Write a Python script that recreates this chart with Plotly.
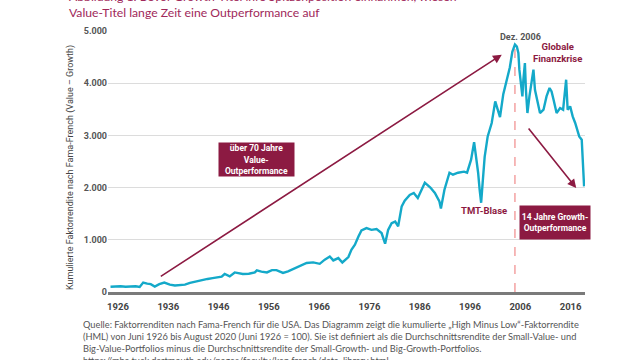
import plotly.graph_objects as go

# ---- data ----
years = [1926.5, 1927.5, 1928.5, 1929.5, 1930.5, 1931.5, 1932.3, 1933.0, 1933.8, 1934.5,
         1935.3, 1936.2, 1937.2, 1938.3, 1939.3, 1940.3, 1941.3, 1942.3, 1943.3, 1944.9,
         1945.8, 1946.8, 1947.7, 1948.6, 1949.2, 1950.2, 1951.2, 1952.8, 1954.0, 1955.2,
         1955.6, 1956.5, 1957.6, 1958.6, 1959.5, 1960.8, 1961.8, 1962.8, 1964.1, 1965.5,
         1966.8, 1968.1, 1969.1, 1970.1, 1970.8, 1971.8, 1972.6, 1973.8, 1974.4, 1975.1,
         1975.8, 1976.4, 1977.4, 1978.4, 1979.4, 1980.4, 1981.1, 1981.7, 1982.4, 1983.1,
         1983.7, 1984.4, 1985.0, 1986.0, 1986.8, 1987.6, 1989.0, 1990.1, 1991.0, 1991.9,
         1992.2, 1992.9, 1993.9, 1994.6, 1995.6, 1996.8, 1997.4, 1998.2, 1998.8, 1999.3,
         1999.6, 1999.9, 2000.2, 2000.5, 2000.9, 2001.5, 2002.3, 2003.0, 2003.5, 2003.95,
         2004.6, 2005.3, 2005.9, 2006.4, 2006.92, 2007.3, 2007.6, 2007.8, 2008.1, 2008.4,
         2008.6, 2008.9, 2009.1, 2009.4, 2009.8, 2010.3, 2010.6, 2010.9, 2011.4, 2011.9,
         2012.6, 2013.2, 2013.8, 2014.2, 2014.6, 2015.2, 2015.9, 2016.5, 2017.1, 2017.4,
         2017.9, 2018.4, 2018.9, 2019.3, 2019.7, 2020.2, 2020.5, 2020.67]
hml = [100, 105, 110, 100, 105, 110, 95, 180, 160, 150,
       105, 150, 180, 140, 125, 130, 140, 175, 200, 235,
       250, 265, 280, 295, 345, 300, 375, 345, 350, 375,
       415, 390, 375, 420, 420, 365, 395, 440, 490, 555,
       567, 540, 620, 680, 605, 650, 565, 670, 810, 905,
       1065, 1180, 1225, 1190, 1205, 1130, 925, 1190, 1320, 1350,
       1260, 1640, 1750, 1860, 1897, 1800, 2095, 2000, 1897, 1736,
       1600, 1960, 2285, 2247, 2285, 2305, 2285, 2535, 2870, 2535,
       2285, 1960, 1710, 2094, 2590, 2981, 3238, 3651, 3492, 3352,
       3790, 4067, 4300, 4600, 4740, 4700, 4579, 4259, 4004, 3747,
       4067, 4387, 3875, 3429, 3747, 4130, 4259, 3875, 3621, 3429,
       3492, 3747, 3908, 3843, 3684, 3429, 3525, 3492, 4067, 3492,
       3556, 3364, 3238, 3109, 2981, 2918, 2343, 2023]

x_tick_years = [1926, 1936, 1946, 1956, 1966, 1976, 1986, 1996, 2006, 2016]
x_tick_text = ["1926", "1936", "1946", "1956", "1966", "1976", "1986", "1996", "2006", "2016"]
y_tick_vals = [0, 1000, 2000, 3000, 4000, 5000]
y_tick_text = ["0", "1.000", "2.000", "3.000", "4.000", "5.000"]

peak_year = 2006.92

MAROON = "#8C1A42"
CYAN = "#14A9C9"
GREY = "#555555"
FONT = "Roboto"

fig = go.Figure()
fig.add_trace(go.Scatter(x=years, y=hml, mode="lines",
                         line=dict(color=CYAN, width=2.4), showlegend=False,
                         hoverinfo="skip"))

fig.add_shape(type="line", xref="x", yref="y", x0=peak_year, x1=peak_year, y0=0, y1=4800,
              line=dict(color="#F08A8A", width=1.2, dash="dash"), layer="below")

ann = []
# arrows
ann.append(dict(x=2004.3, y=4546, ax=1936.2, ay=280, xref="x", yref="y", axref="x", ayref="y",
                text="", showarrow=True, arrowhead=2, arrowsize=1.1, arrowwidth=1.6,
                arrowcolor=MAROON, standoff=0))
ann.append(dict(x=2019.1, y=1990, ax=2009.4, ay=3161, xref="x", yref="y", axref="x", ayref="y",
                text="", showarrow=True, arrowhead=2, arrowsize=1.1, arrowwidth=1.6,
                arrowcolor=MAROON, standoff=0))
# boxes
ann.append(dict(x=1955.55, y=2534, xref="x", yref="y", showarrow=False,
                text="<b>über 70 Jahre<br>Value-<br>Outperformance</b>",
                font=dict(family=FONT, size=8.5, color="white"), bgcolor=MAROON,
                width=75, height=33, borderpad=0, align="center"))
ann.append(dict(x=2014.9, y=1333, xref="x", yref="y", showarrow=False,
                text="<b>14 Jahre Growth-<br>Outperformance</b>",
                font=dict(family=FONT, size=8.5, color="white"), bgcolor=MAROON,
                width=70, height=33, borderpad=0, align="center"))
# labels
ann.append(dict(x=2008.1, y=4890, xref="x", yref="y", showarrow=False,
                text="<b>Dez. 2006</b>", font=dict(family=FONT, size=9, color=GREY)))
ann.append(dict(x=2015.3, y=4586, xref="x", yref="y", showarrow=False,
                text="<b>Globale<br>Finanzkrise</b>", align="center",
                font=dict(family=FONT, size=9.5, color=MAROON)))
ann.append(dict(x=2000.8, y=1563, xref="x", yref="y", showarrow=False,
                text="<b>TMT-Blase</b>", font=dict(family=FONT, size=9.5, color=MAROON)))
# y-axis title
ann.append(dict(x=70, y=168, xref="paper", yref="paper", xanchor="center", yanchor="middle",
                showarrow=False, textangle=-90,
                text="Kumulierte Faktorrendite nach Fama-French (Value – Growth)",
                font=dict(family=FONT, size=9, color="#444444")))
# title
ann.append(dict(x=67, y=22, xref="paper", yref="paper", xanchor="left", yanchor="bottom",
                showarrow=False, align="left",
                text="Abbildung 1: Bevor Growth-Titel ihre Spitzenposition einnahmen, wiesen<br>"
                     "Value-Titel lange Zeit eine Outperformance auf",
                font=dict(family="Lato", size=12.2, color="#A0285A")))
# caption
ann.append(dict(x=81, y=317, xref="paper", yref="paper", xanchor="left", yanchor="top",
                showarrow=False, align="left",
                text="Quelle: Faktorrenditen nach Fama-French für die USA. Das Diagramm zeigt die kumulierte „High Minus Low“-Faktorrendite<br>"
                     "(HML) von Juni 1926 bis August 2020 (Juni 1926 = 100). Sie ist definiert als die Durchschnittsrendite der Small-Value- und<br>"
                     "Big-Value-Portfolios minus die Durchschnittsrendite der Small-Growth- und Big-Growth-Portfolios.<br>"
                     "https://mba.tuck.dartmouth.edu/pages/faculty/ken.french/data_library.html",
                font=dict(family="Lato", size=9.25, color="#555555")))

# convert pixel positions for paper-referenced annotations
L, R, T, B = 108, 55, 31, 68
W, H = 640, 360
pw, ph = W - L - R, H - T - B
for a in ann:
    if a.get("xref") == "paper":
        a["x"] = (a["x"] - L) / pw
        a["y"] = (H - B - a["y"]) / ph

fig.update_layout(
    width=W, height=H, margin=dict(l=L, r=R, t=T, b=B),
    paper_bgcolor="white", plot_bgcolor="white",
    annotations=ann,
    xaxis=dict(range=[1926, 2020.85], showgrid=False, zeroline=False,
               tickvals=x_tick_years, ticktext=x_tick_text, ticks="",
               ticklabelshift=10, ticklabelstandoff=4,
               showline=True, linecolor="#7a7a7a", linewidth=3,
               tickfont=dict(family=FONT, size=9.5, color="#444444", weight=700)),
    yaxis=dict(range=[0, 5000], showgrid=True, gridcolor="#dcdcdc", gridwidth=1,
               zeroline=False, tickvals=y_tick_vals, ticktext=y_tick_text, ticks="",
               ticklabelstandoff=0,
               tickfont=dict(family=FONT, size=9, color="#555555", weight=700)),
)

fig.write_html("out.html", config={"displayModeBar": False},
               post_script="document.body.style.margin='0';")
